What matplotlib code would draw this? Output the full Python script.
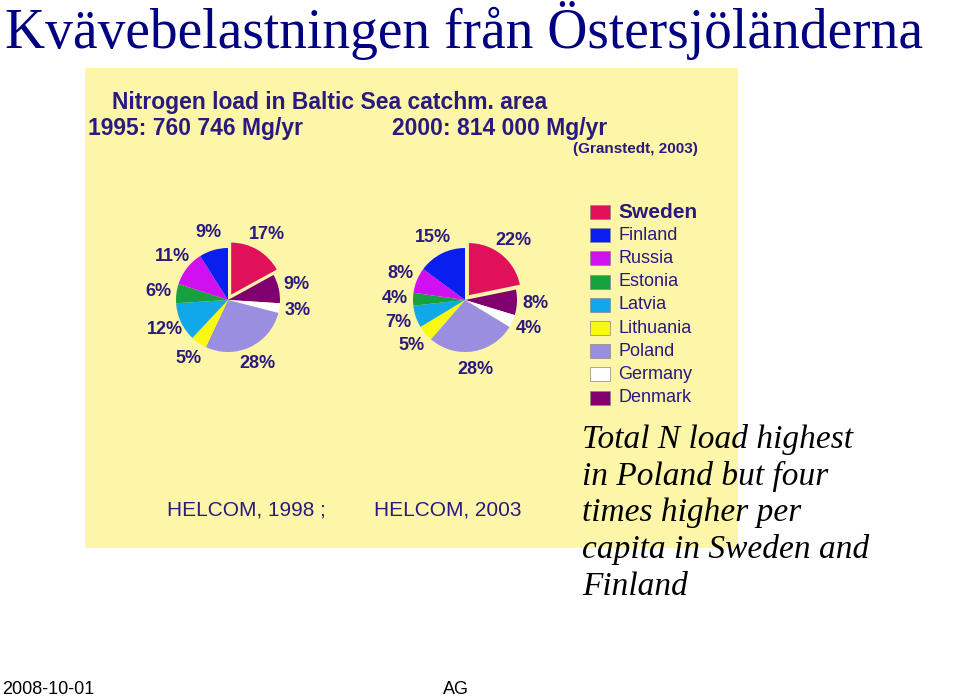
import matplotlib.pyplot as plt
from matplotlib.patches import Rectangle

countries = ['Sweden', 'Finland', 'Russia', 'Estonia', 'Latvia', 'Lithuania', 'Poland', 'Germany', 'Denmark']
colors = ['#e0105a', '#0a1ef0', '#d010f0', '#16a040', '#10a8e8', '#f8f810', '#9a8ee0', '#ffffff', '#800070']
# clockwise order starting from Sweden at the top
pie_order = ['Sweden', 'Denmark', 'Germany', 'Poland', 'Lithuania', 'Latvia', 'Estonia', 'Russia', 'Finland']
share_1995 = [17, 9, 3, 28, 5, 12, 6, 11, 9]
share_2000 = [22, 8, 4, 28, 5, 7, 4, 8, 15]

W, H = 960, 699
fig = plt.figure(figsize=(9.6, 6.99), dpi=100)
fig.patch.set_facecolor('white')
plt.rcParams['font.family'] = 'Liberation Sans'

def fx(x): return x / W
def fy(y): return 1 - y / H

# yellow scanned panel
fig.patches.append(Rectangle((fx(85), fy(548)), fx(738) - fx(85), (548 - 68) / H,
                             transform=fig.transFigure, facecolor='#fdf6a8', edgecolor='none', zorder=-5))

fig.text(fx(5), fy(30), 'Kvävebelastningen från Östersjöländerna', fontsize=40,
         family='Liberation Serif', color='#000080', va='center')

hc = '#2a1a80'
fig.text(fx(112), fy(102), 'Nitrogen load in Baltic Sea catchm. area', fontsize=16.5, weight='bold', color=hc, va='center')
fig.text(fx(88), fy(129), '1995: 760 746 Mg/yr', fontsize=16.5, weight='bold', color=hc, va='center')
fig.text(fx(392), fy(129), '2000: 814 000 Mg/yr', fontsize=16.5, weight='bold', color=hc, va='center')
fig.text(fx(573), fy(149), '(Granstedt, 2003)', fontsize=11, weight='bold', color=hc, va='center')

cmap = dict(zip(countries, colors))
for cx, vals in [(228, share_1995), (465, share_2000)]:
    r = 52
    ax = fig.add_axes([fx(cx - 2.2 * r), fy(300 + 2.2 * r), 4.4 * r / W, 4.4 * r / H])
    ax.set_facecolor('none')
    explode = [0.12] + [0] * (len(vals) - 1)
    ax.pie(vals, colors=[cmap[c] for c in pie_order], startangle=90, counterclock=False,
           explode=explode, radius=1.0,
           autopct=lambda p: f'{p:.0f}%', pctdistance=1.35,
           textprops=dict(fontsize=13, weight='bold', color=hc),
           wedgeprops=dict(linewidth=0))
    ax.set_xlim(-2.2, 2.2)
    ax.set_ylim(-2.2, 2.2)
    ax.set_aspect('equal')
    ax.axis('off')

# legend
for i, (c, col) in enumerate(zip(countries, colors)):
    y = 212 + i * 23.2
    fig.patches.append(Rectangle((fx(590), fy(y + 7)), 20 / W, 14 / H, transform=fig.transFigure,
                                 facecolor=col, edgecolor='#888888', lw=0.5))
    fig.text(fx(618), fy(y), c, fontsize=15 if i == 0 else 13, weight='bold' if i == 0 else 'normal',
             color=hc, va='center')

fig.text(fx(167), fy(510), 'HELCOM, 1998 ;', fontsize=15, color=hc, va='center')
fig.text(fx(374), fy(510), 'HELCOM, 2003', fontsize=15, color=hc, va='center')

fig.text(fx(582), fy(424),
         'Total N load highest\nin Poland but four\ntimes higher per\ncapita in Sweden and\nFinland',
         fontsize=24, style='italic', family='Liberation Serif', va='top', linespacing=1.25)

fig.text(fx(2), fy(690), '2008-10-01', fontsize=13, va='center')
fig.text(fx(443), fy(690), 'AG', fontsize=13, va='center')

fig.savefig('out.png', dpi=100)
